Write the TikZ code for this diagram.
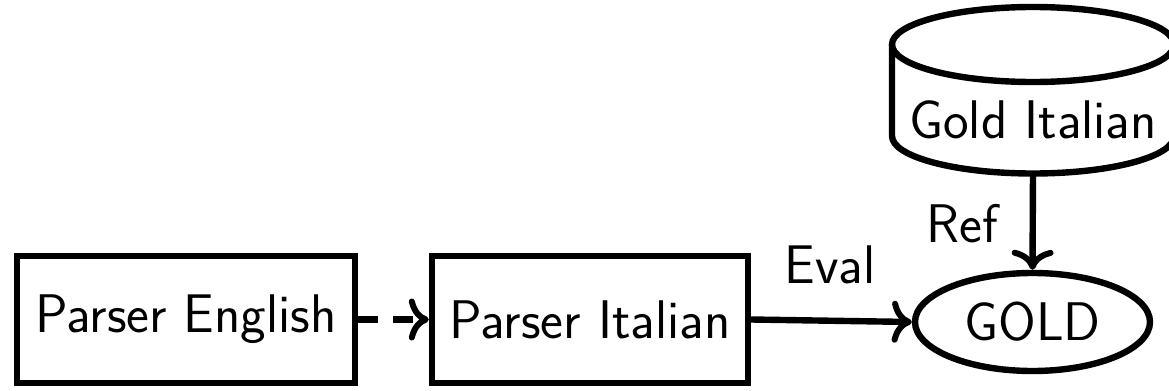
\documentclass[tikz,border=0pt]{standalone}
\usepackage{fontspec}
\usetikzlibrary{arrows.meta,shapes.geometric}
\tikzset{
  lbl/.style={font=\sffamily\fontsize{27.2}{31}\selectfont},
  boxnode/.style={draw, line width=3.2pt, rectangle, inner sep=0pt, lbl},
  ellnode/.style={draw, line width=3.2pt, ellipse, inner sep=0pt, lbl},
  conn/.style={line width=3.2pt, -{Computer Modern Rightarrow[length=10pt,width=21pt,line width=3pt]}},
}
\begin{document}
\begin{tikzpicture}[x=0.5pt,y=-0.5pt]
\useasboundingbox (0,0) rectangle (1169,391);
% boxes
\node[boxnode, minimum width=169pt, minimum height=63.5pt] (pe) at (186,319.5) {Parser English};
\node[boxnode, minimum width=158pt, minimum height=63.5pt] (pi) at (590,319.5) {Parser Italian};
\node[ellnode, minimum width=117.5pt, minimum height=49pt] (gold) at (1032.5,322) {GOLD};
% cylinder
\draw[line width=3.2pt] (1033,44.5) ellipse [x radius=141, y radius=37.5];
\draw[line width=3.2pt] (892,44.5) -- (892,136) arc[start angle=180, end angle=0, x radius=141, y radius=37.5] -- (1174,44.5);
\node[lbl, anchor=base] (gi) at (1033,138) {Gold Italian};
\coordinate (gib) at (1033,173.5);
% connectors
\draw[conn, dash pattern=on 10pt off 7.5pt] (pe.east) -- (pi.west);
\draw[conn] (pi.east) -- (gold.west);
\draw[conn] (gib) -- (gold.north);
% labels
\node[lbl, anchor=base] (eval) at (830,283) {Eval};
\node[lbl, anchor=base] (ref) at (962,242) {Ref};
\end{tikzpicture}
\end{document}
